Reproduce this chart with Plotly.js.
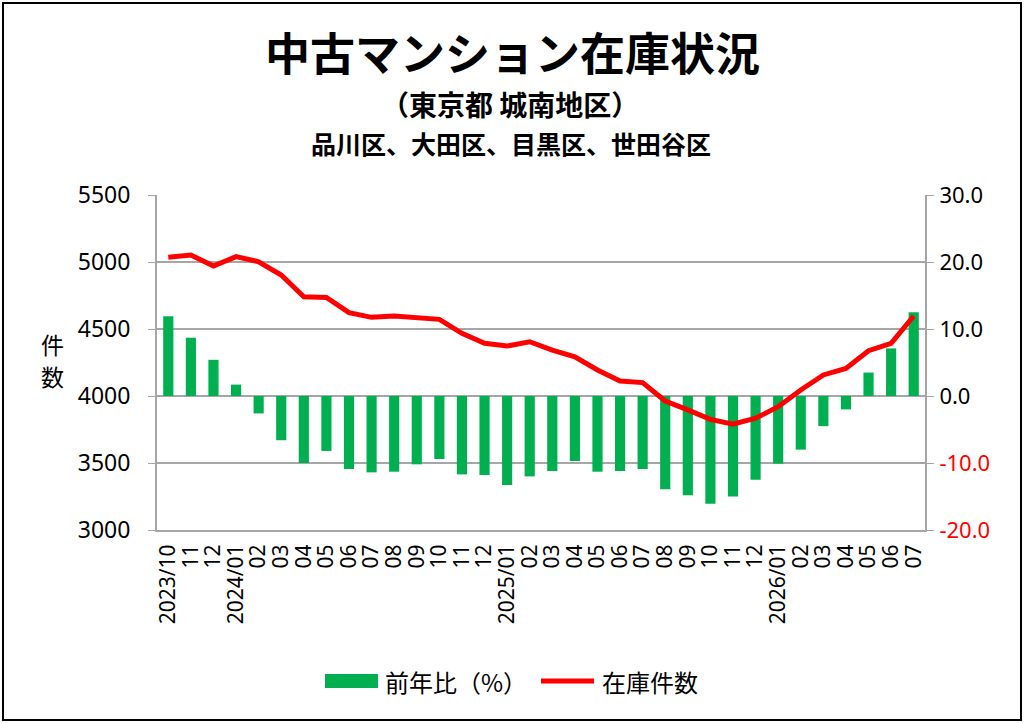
<!DOCTYPE html>
<html>
<head>
<meta charset="utf-8">
<script src="https://cdn.plot.ly/plotly-3.0.1.min.js"></script>
<style>
  body { margin: 0; background: #fff; }
  #chart { width: 1024px; height: 723px; }
  #frame { position: absolute; left: 2px; top: 2px; width: 1016px; height: 715px; border: 2px solid #000; pointer-events: none; }
</style>
</head>
<body>
<div id="chart"></div>
<div id="frame"></div>
<script>
const months = ["2023/10","11","12","2024/01","02","03","04","05","06","07","08","09","10","11","12",
  "2025/01","02","03","04","05","06","07","08","09","10","11","12","2026/01","02","03","04","05","06","07"];
// month labels repeat, so the x axis runs on position and shows the month text as tick label
const xIdx = months.map((m, i) => i);

const yoy = [11.9, 8.7, 5.4, 1.7, -2.6, -6.6, -10.0, -8.2, -10.9, -11.4, -11.3, -10.2, -9.4, -11.7, -11.8,
  -13.3, -12.0, -11.2, -9.7, -11.3, -11.2, -10.9, -13.9, -14.8, -16.1, -15.0, -12.5, -10.1, -8.0, -4.5, -2.0, 3.5, 7.1, 12.5];

const stock = [5035, 5052, 4970, 5040, 5002, 4903, 4741, 4736, 4622, 4587, 4597, 4582, 4572, 4468, 4393,
  4373, 4405, 4343, 4293, 4194, 4112, 4100, 3963, 3896, 3826, 3789, 3834, 3920, 4045, 4157, 4206, 4338, 4393, 4597];

const pctTicks = [-20, -10, 0, 10, 20, 30];
const pctLabels = ['<span style="color:#FF0000">-20.0</span>', '<span style="color:#FF0000">-10.0</span>',
  '0.0', '10.0', '20.0', '30.0'];

const jpFont = '"Noto Sans CJK JP", "Noto Sans", sans-serif';
const numFont = '"Noto Sans", "Noto Sans CJK JP", sans-serif';
const axisGray = '#A6A6A6';
const green = '#00B050';
const red = '#FF0000';

// plot area in pixels: left 157, right 925, top 195, bottom 530
const px = x => (x - 157) / 768;
const py = y => (530 - y) / 335;

const bars = {
  type: 'bar',
  name: '前年比（%）',
  x: xIdx,
  y: yoy,
  yaxis: 'y',
  marker: { color: green }
};

const line = {
  type: 'scatter',
  mode: 'lines',
  name: '在庫件数',
  x: xIdx,
  y: stock,
  yaxis: 'y2',
  line: { color: red, width: 5 }
};

const layout = {
  width: 1024,
  height: 723,
  margin: { l: 157, r: 99, t: 195, b: 193 },
  paper_bgcolor: '#fff',
  plot_bgcolor: '#fff',
  font: { family: jpFont, color: '#000', size: 20 },
  bargap: 0.55,
  showlegend: false,
  xaxis: {
    type: 'linear',
    range: [-0.5, months.length - 0.5],
    tickmode: 'array',
    tickvals: xIdx,
    ticktext: months,
    tickangle: -90,
    tickfont: { family: numFont, size: 21 },
    showgrid: false,
    zeroline: false,
    showline: true,
    linecolor: axisGray,
    linewidth: 2,
    ticks: '',
    ticklabelstandoff: 4
  },
  yaxis: {
    side: 'right',
    range: [-20, 30],
    tickmode: 'array',
    tickvals: pctTicks,
    ticktext: pctLabels,
    tickfont: { family: numFont, size: 22 },
    showgrid: true,
    gridcolor: axisGray,
    gridwidth: 1.5,
    zeroline: true,
    zerolinecolor: axisGray,
    zerolinewidth: 1.5,
    showline: true,
    linecolor: axisGray,
    linewidth: 2,
    ticks: 'outside',
    ticklen: 7,
    tickcolor: axisGray,
    ticklabelstandoff: 1
  },
  yaxis2: {
    overlaying: 'y',
    side: 'left',
    range: [3000, 5500],
    dtick: 500,
    tickformat: 'd',
    tickfont: { family: numFont, size: 23 },
    showgrid: false,
    zeroline: false,
    showline: true,
    linecolor: axisGray,
    linewidth: 2,
    ticks: 'outside',
    ticklen: 7,
    tickcolor: axisGray,
    ticklabelstandoff: 13
  },
  shapes: [
    // legend keys
    { type: 'rect', xref: 'paper', yref: 'paper', x0: px(325), x1: px(378), y0: py(688), y1: py(674), fillcolor: green, line: { width: 0 } },
    { type: 'line', xref: 'paper', yref: 'paper', x0: px(541), x1: px(594), y0: py(681), y1: py(681), line: { color: red, width: 5 } }
  ],
  annotations: [
    { text: '<b>中古マンション在庫状況</b>', x: px(512), y: py(52), font: { size: 45 } },
    { text: '<b>（東京都 城南地区）</b>', x: px(510), y: py(104), font: { size: 28 } },
    { text: '<b>品川区、大田区、目黒区、世田谷区</b>', x: px(511), y: py(143), font: { size: 25 } },
    { text: '件', x: px(52), y: py(344), font: { size: 23 } },
    { text: '数', x: px(52), y: py(376), font: { size: 23 } },
    { text: '前年比（%）', x: px(383), y: py(681), xanchor: 'left', font: { size: 24 } },
    { text: '在庫件数', x: px(600), y: py(681), xanchor: 'left', font: { size: 24 } }
  ].map(a => Object.assign({ xref: 'paper', yref: 'paper', xanchor: 'center', yanchor: 'middle', showarrow: false }, a))
};

Plotly.newPlot('chart', [bars, line], layout, { displayModeBar: false, staticPlot: true });
</script>
</body>
</html>
